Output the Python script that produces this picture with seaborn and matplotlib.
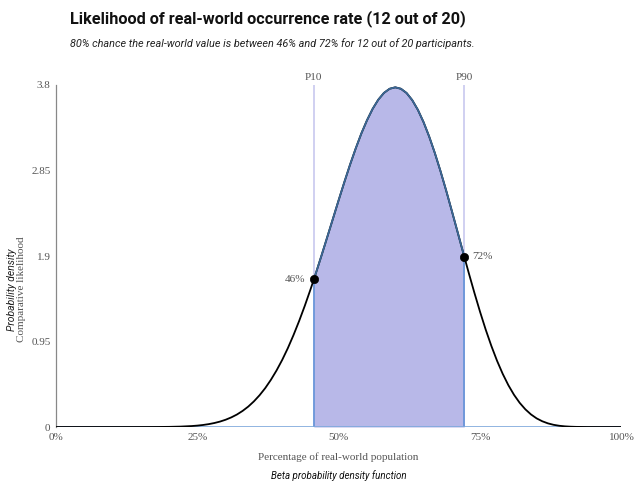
import matplotlib
matplotlib.use("Agg")
import matplotlib.pyplot as plt
import seaborn as sns
import pandas as pd

# ---- data ----
x_pct = [0, 10, 12, 14, 16, 18, 20, 22, 24, 25, 26, 27, 28, 29, 30, 31, 32, 33, 34,
         35, 36, 37, 38, 39, 40, 41, 42, 43, 44, 45, 45.6, 46, 47, 48, 49, 50, 51,
         52, 53, 54, 55, 56, 57, 58, 59, 60, 61, 62, 63, 64, 65, 66, 67, 68, 69,
         70, 71, 72, 72.2, 73, 74, 75, 76, 77, 78, 79, 80, 81, 82, 83, 84, 85, 86,
         87, 88, 89, 90, 91, 92, 94, 96, 100]
density = [0.0, 0.0, 0.00001, 0.00005, 0.00018, 0.00063, 0.0018, 0.0047, 0.0108,
           0.0158, 0.0227, 0.0320, 0.0444, 0.0604, 0.081, 0.107, 0.139, 0.179,
           0.227, 0.285, 0.353, 0.432, 0.524, 0.628, 0.745, 0.876, 1.021, 1.178,
           1.347, 1.527, 1.640, 1.717, 1.914, 2.116, 2.319, 2.523, 2.722, 2.914,
           3.094, 3.261, 3.408, 3.535, 3.637, 3.712, 3.758, 3.774, 3.758, 3.711,
           3.632, 3.524, 3.388, 3.227, 3.044, 2.843, 2.628, 2.402, 2.172, 1.940,
           1.894, 1.711, 1.490, 1.279, 1.081, 0.900, 0.736, 0.591, 0.465, 0.358,
           0.269, 0.197, 0.140, 0.096, 0.064, 0.0406, 0.0245, 0.0140, 0.0075,
           0.0037, 0.0016, 0.0002, 0.0, 0.0]
p10_pct = 45.6
p90_pct = 72.2
p10_label = "46%"
p90_label = "72%"
y_ticks = [0, 0.95, 1.9, 2.85, 3.8]
y_tick_labels = ["0", "0.95", "1.9", "2.85", "3.8"]
x_ticks = [0, 25, 50, 75, 100]
x_tick_labels = ["0%", "25%", "50%", "75%", "100%"]

title = "Likelihood of real-world occurrence rate (12 out of 20)"
subtitle = "80% chance the real-world value is between 46% and 72% for 12 out of 20 participants."
xlabel = "Percentage of real-world population"
ylabel_top = "Probability density"
ylabel_bottom = "Comparative likelihood"
footer = "Beta probability density function"

df = pd.DataFrame({"x": x_pct, "y": density})
inside = df[(df.x >= p10_pct) & (df.x <= p90_pct)]

sns.set_style("white")
plt.rcParams['font.family'] = ['Liberation Serif', 'DejaVu Serif']

fig = plt.figure(figsize=(6.4, 4.97), dpi=100)
ax = fig.add_axes([0.0875, 0.1408, 0.8835, 0.6882])

lav = "#b8b8e8"
edge_blue = "#5b8fd6"
steel = "#3b6796"
grey = "#555555"

# shaded central region
ax.fill_between(inside.x, 0, inside.y, color=lav, linewidth=0, zorder=1)

# percentile lines
ax.axvline(p10_pct, color="#c4c4ee", lw=1.1, zorder=0.5)
ax.axvline(p90_pct, color="#c4c4ee", lw=1.1, zorder=0.5)
ax.vlines([p10_pct, p90_pct], 0,
          [inside.y.iloc[0], inside.y.iloc[-1]], color=edge_blue, lw=1.1, zorder=2)

# baseline
ax.axhline(0, color="#7ea8dc", lw=1.2, zorder=2)

# curve
sns.lineplot(data=df, x="x", y="y", ax=ax, color="black", lw=1.3, zorder=3,
             sort=False, estimator=None)
sns.lineplot(data=inside, x="x", y="y", ax=ax, color=steel, lw=1.3, zorder=4,
             sort=False, estimator=None)

# markers
sns.scatterplot(x=[p10_pct, p90_pct], y=[inside.y.iloc[0], inside.y.iloc[-1]],
                ax=ax, color="black", s=36, zorder=5, edgecolor="black")
ax.annotate(p10_label, (p10_pct, inside.y.iloc[0]), xytext=(-6, 0),
            textcoords="offset points", ha="right", va="center",
            fontsize=8, color=grey)
ax.annotate(p90_label, (p90_pct, inside.y.iloc[-1]), xytext=(6, 0),
            textcoords="offset points", ha="left", va="center",
            fontsize=8, color=grey)
ax.text(p10_pct, 3.83, "P10", transform=ax.transData, ha="center", va="bottom",
        fontsize=8, color=grey)
ax.text(p90_pct, 3.83, "P90", transform=ax.transData, ha="center", va="bottom",
        fontsize=8, color=grey)

ax.set_xlim(0, 100)
ax.set_ylim(0, 3.8)
ax.set_xticks(x_ticks)
ax.set_xticklabels(x_tick_labels)
ax.set_yticks(y_ticks)
ax.set_yticklabels(y_tick_labels)
ax.tick_params(axis="both", labelsize=8, labelcolor=grey, color="#888888",
               length=3, width=0.8, pad=1)
ax.tick_params(axis="x", length=0, pad=4)
for s in ["top", "right", "bottom"]:
    ax.spines[s].set_visible(False)
ax.spines["left"].set_color("#888888")
ax.spines["left"].set_linewidth(0.9)
ax.set_xlabel("")
ax.set_ylabel("")

fig.text(0.5289, 0.081, xlabel, ha="center", va="center", fontsize=8, color=grey)
fig.text(0.5289, 0.044, footer, ha="center", va="center", fontsize=7,
         style="italic", color="#111111", family=["Roboto", "DejaVu Sans"])
fig.text(0.019, 0.418, ylabel_top, rotation=90, ha="center", va="center",
         fontsize=7.5, style="italic", color="#222222", family=["Roboto", "DejaVu Sans"])
fig.text(0.033, 0.418, ylabel_bottom, rotation=90, ha="center", va="center",
         fontsize=8, color=grey)

fig.text(0.109, 0.963, title, ha="left", va="center", fontsize=11.7,
         weight="bold", color="#111111", family=["Roboto", "DejaVu Sans"])
fig.text(0.109, 0.913, subtitle, ha="left", va="center", fontsize=7.8,
         style="italic", color="#222222", family=["Roboto", "DejaVu Sans"])

fig.savefig("out.png", dpi=100)
